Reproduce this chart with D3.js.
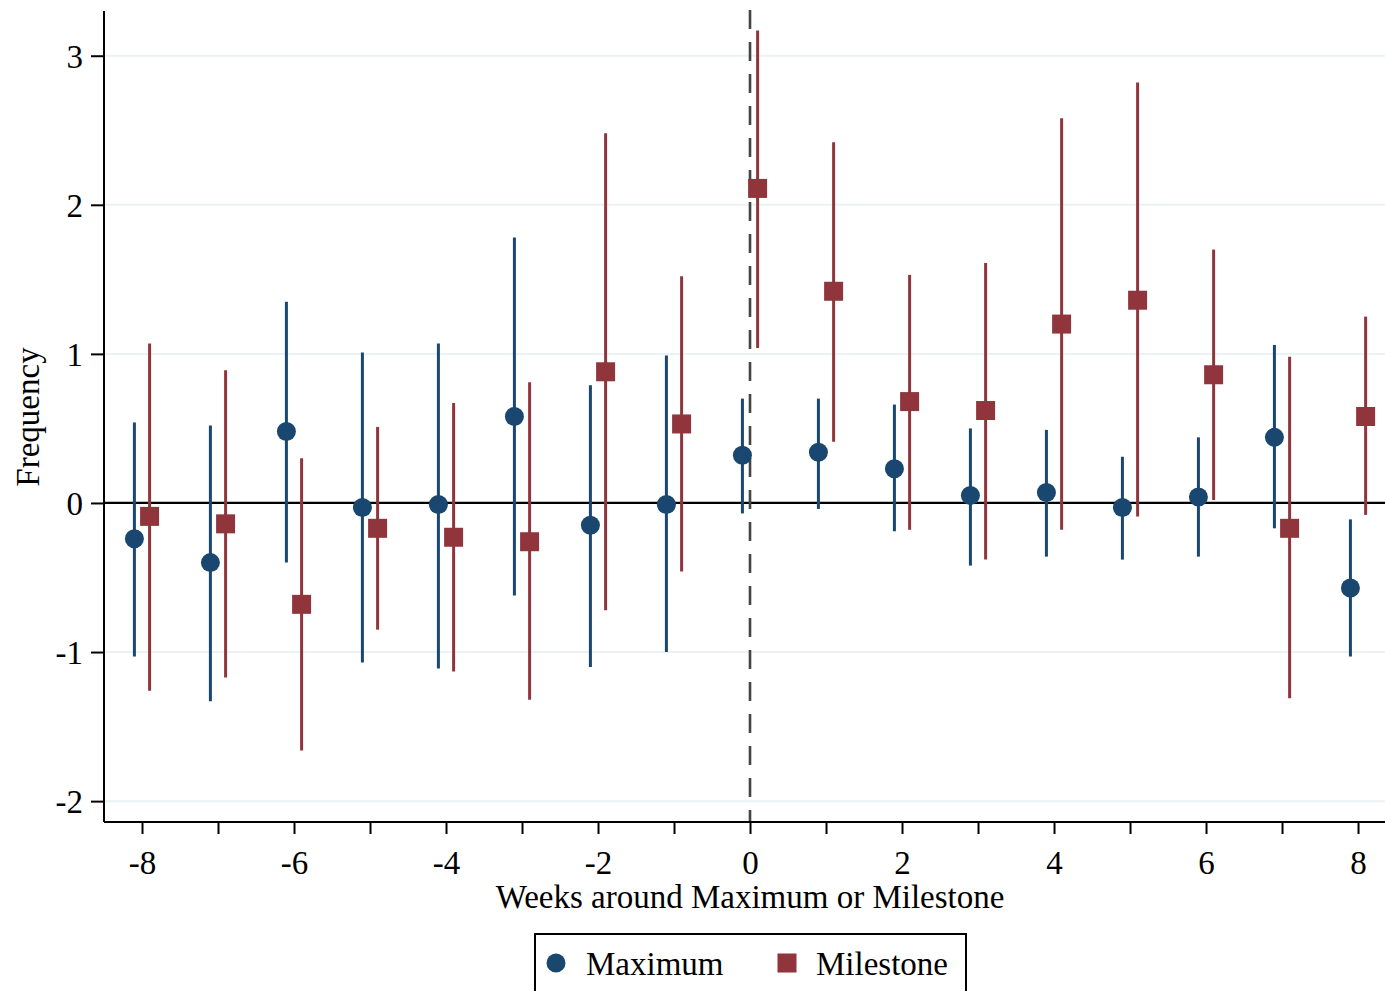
<!DOCTYPE html>
<html>
<head>
<meta charset="utf-8">
<script src="https://cdn.jsdelivr.net/npm/d3@7"></script>
<style>
  body { margin: 0; background: #fff; }
  svg text { font-family: "Liberation Serif", "DejaVu Serif", serif; fill: #000; }
</style>
</head>
<body>
<svg id="chart"></svg>
<script>
// weeks around maximum / milestone
const weeks = [-8, -7, -6, -5, -4, -3, -2, -1, 0, 1, 2, 3, 4, 5, 6, 7, 8];

// Maximum series: estimate, lower and upper bound of CI
const maxEst = [-0.24, -0.40, 0.48, -0.03, -0.01, 0.58, -0.15, -0.01, 0.32, 0.34, 0.23, 0.05, 0.07, -0.03, 0.04, 0.44, -0.57];
const maxLo  = [-1.03, -1.33, -0.40, -1.07, -1.11, -0.62, -1.10, -1.00, -0.07, -0.04, -0.19, -0.42, -0.36, -0.38, -0.36, -0.17, -1.03];
const maxHi  = [0.54, 0.52, 1.35, 1.01, 1.07, 1.78, 0.79, 0.99, 0.70, 0.70, 0.66, 0.50, 0.49, 0.31, 0.44, 1.06, -0.11];

// Milestone series
const msEst = [-0.09, -0.14, -0.68, -0.17, -0.23, -0.26, 0.88, 0.53, 2.11, 1.42, 0.68, 0.62, 1.20, 1.36, 0.86, -0.17, 0.58];
const msLo  = [-1.26, -1.17, -1.66, -0.85, -1.13, -1.32, -0.72, -0.46, 1.04, 0.41, -0.18, -0.38, -0.18, -0.09, 0.02, -1.31, -0.08];
const msHi  = [1.07, 0.89, 0.30, 0.51, 0.67, 0.81, 2.48, 1.52, 3.17, 2.42, 1.53, 1.61, 2.58, 2.82, 1.70, 0.98, 1.25];

const yTicks = [-2, -1, 0, 1, 2, 3];
const xLabelTicks = [-8, -6, -4, -2, 0, 2, 4, 6, 8];

const W = 1385, H = 991;
const blue = "#1a476f", red = "#90353b";
const offset = 0.1;

const svg = d3.select("#chart").attr("width", W).attr("height", H);

const x = d3.scaleLinear().domain([-8.5, 8.355]).range([104, 1385]);
const y = d3.scaleLinear().domain([-2.14, 3.30]).range([822, 11]);

// gridlines
svg.append("g").selectAll("line")
  .data(yTicks)
  .join("line")
    .attr("x1", 104).attr("x2", W)
    .attr("y1", d => y(d)).attr("y2", d => y(d))
    .attr("stroke", "#eaf2f3").attr("stroke-width", 2);

// zero line
svg.append("line")
  .attr("x1", 104).attr("x2", W)
  .attr("y1", y(0)).attr("y2", y(0))
  .attr("stroke", "#000").attr("stroke-width", 2.2);

// vertical dashed line at 0
svg.append("line")
  .attr("x1", x(0)).attr("x2", x(0))
  .attr("y1", 10).attr("y2", 822)
  .attr("stroke", "#444").attr("stroke-width", 2.6)
  .attr("stroke-dasharray", "19,13");

// axes (hyphen minus like the original, not d3's unicode minus)
const yAxis = d3.axisLeft(y).tickValues(yTicks).tickSize(13).tickPadding(8).tickFormat(d => String(d));
const yAxisG = svg.append("g").attr("transform", "translate(104,0)").call(yAxis);
yAxisG.select(".domain").attr("d", "M0,11V822").attr("stroke", "#000").attr("stroke-width", 2);

const xAxis = d3.axisBottom(x).tickValues(weeks).tickSize(12).tickPadding(17)
  .tickFormat(d => xLabelTicks.includes(d) ? String(d) : "");
const xAxisG = svg.append("g").attr("transform", "translate(0,822)").call(xAxis);
xAxisG.select(".domain").attr("d", "M104,0H" + W).attr("stroke", "#000").attr("stroke-width", 2);

[yAxisG, xAxisG].forEach(g => {
  g.selectAll(".tick line").attr("stroke", "#000").attr("stroke-width", 2);
  g.selectAll(".tick text")
    .style("font-family", "'Liberation Serif', serif")
    .style("font-size", "33px")
    .attr("fill", "#000");
});
xAxisG.selectAll(".tick text").attr("dy", "0.71em");
yAxisG.selectAll(".tick text").attr("dy", "0.35em");

// axis titles
svg.append("text")
  .attr("x", 750).attr("y", 908)
  .attr("text-anchor", "middle")
  .style("font-size", "33px")
  .text("Weeks around Maximum or Milestone");

svg.append("text")
  .attr("transform", "translate(39,417) rotate(-90)")
  .attr("text-anchor", "middle")
  .style("font-size", "33px")
  .text("Frequency");

// data rows
const maxRows = weeks.map((w, i) => ({ w: w - offset, est: maxEst[i], lo: maxLo[i], hi: maxHi[i] }));
const msRows = weeks.map((w, i) => ({ w: w + offset, est: msEst[i], lo: msLo[i], hi: msHi[i] }));

// confidence bars
svg.append("g").selectAll("line")
  .data(maxRows)
  .join("line")
    .attr("x1", d => x(d.w)).attr("x2", d => x(d.w))
    .attr("y1", d => y(d.lo)).attr("y2", d => y(d.hi))
    .attr("stroke", blue).attr("stroke-width", 3);

svg.append("g").selectAll("line")
  .data(msRows)
  .join("line")
    .attr("x1", d => x(d.w)).attr("x2", d => x(d.w))
    .attr("y1", d => y(d.lo)).attr("y2", d => y(d.hi))
    .attr("stroke", red).attr("stroke-width", 3);

// point estimates
svg.append("g").selectAll("circle")
  .data(maxRows)
  .join("circle")
    .attr("cx", d => x(d.w)).attr("cy", d => y(d.est))
    .attr("r", 9.5)
    .attr("fill", blue);

const sq = 19;
svg.append("g").selectAll("rect")
  .data(msRows)
  .join("rect")
    .attr("x", d => x(d.w) - sq / 2).attr("y", d => y(d.est) - sq / 2)
    .attr("width", sq).attr("height", sq)
    .attr("fill", red);

// legend
const legend = svg.append("g");
legend.append("rect")
  .attr("x", 535).attr("y", 934)
  .attr("width", 431).attr("height", 80)
  .attr("fill", "#fff").attr("stroke", "#000").attr("stroke-width", 2);
legend.append("circle")
  .attr("cx", 556).attr("cy", 963).attr("r", 9.5).attr("fill", blue);
legend.append("text")
  .attr("x", 586).attr("y", 975)
  .style("font-size", "33px")
  .text("Maximum");
legend.append("rect")
  .attr("x", 787 - sq / 2).attr("y", 963 - sq / 2)
  .attr("width", sq).attr("height", sq).attr("fill", red);
legend.append("text")
  .attr("x", 816).attr("y", 975)
  .style("font-size", "33px")
  .text("Milestone");
</script>
</body>
</html>
